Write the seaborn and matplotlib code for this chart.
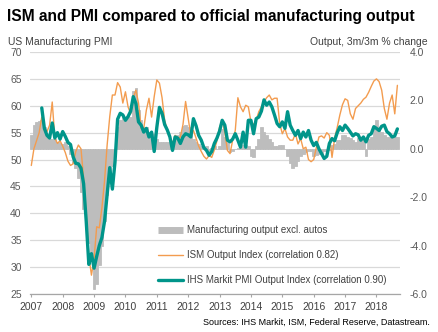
import numpy as np
import pandas as pd
import matplotlib
matplotlib.use("Agg")
import matplotlib.pyplot as plt
import seaborn as sns
from matplotlib.lines import Line2D

sns.set_theme(style="white")
plt.rcParams['font.family'] = ['Liberation Sans', 'DejaVu Sans']

# ---- data (monthly, Jan 2007 = month 0) ----
years = ["2007", "2008", "2009", "2010", "2011", "2012", "2013",
         "2014", "2015", "2016", "2017", "2018"]

output_excl_autos = [  # 3m/3m % change, right axis
    0.55, 1.0, 1.1, 1.15, 1.2, 0.9, 0.5, 0.4, 0.4, 0.4, 0.3, 0.25, 0.2, 0.3, 0.1,
    -0.2, -0.6, -0.8, -1.2, -1.8, -2.5, -3.3, -3.9, -4.5, -5.8, -5.6, -4.8, -4.0,
    -3.0, -1.9, -1.3, -0.7, -0.2,
    0.9, 1.2, 1.3, 1.2, 1.4, 1.3, 2.4, 2.5, 1.6, 1.2, 0.9, 0.9, 0.7, 0.6, 0.6, 0.4,
    0.3, 0.3, 0.3, 0.3, 0.2, 0.3, 0.5, 0.55, 0.7, 0.95, 1.0, 0.9, 0.6, 0.4, 0.3, 0.2,
    0.1, 0.05, 0.1, -0.1, 0.05, 0.1, 0.0, 0.1,
    0.8, 0.5, 0.3, -0.15, -0.1, 0.0, 0.05, 0.05, 0.15, 0.15, 0.1, -0.3, -0.35, 0.1,
    0.4, 0.9, 0.7, 0.55, 0.4, 0.3, 0.1, 0.1, 0.15, 0.15, 0.0, -0.3, -0.6, -0.8, -0.7,
    -0.5, -0.3, -0.2, -0.15, -0.1, -0.1, -0.3, -0.25, -0.2, -0.2, -0.1, -0.1, -0.05,
    0.15, 0.2, 0.35, 0.35, 0.55, 0.55, 0.5, 0.45, 0.35, 0.3, 0.45, 0.5, 0.4, -0.3,
    0.4, 0.5, 1.0, 1.2, 0.8, 0.7, 0.55, 0.5, 0.5, 0.55, 0.5, 0.5]

ism_output = [
    48.9, 52.0, 53.5, 55.0, 57.9, 55.4, 55.2, 56.4, 60.7, 54.0, 53.0, 53.5, 52.5,
    51.3, 49.7, 48.9, 49.2, 51.5, 52.7, 52.0, 46.5, 40.0, 32.0, 28.5, 31.5, 37.5,
    37.3, 41.0, 46.0, 52.7, 58.0, 62.0, 62.0, 64.3, 63.5, 60.5, 62.6,
    59.8, 58.5, 61.5, 62.9, 60.5, 55.8, 55.8, 59.2, 61.4, 57.9, 61.7, 64.8, 64.2,
    61.5, 57.3, 55.5, 54.2, 53.0, 54.5, 54.0, 54.2, 56.5, 60.8, 57.6, 54.5, 55.4,
    54.0, 52.5, 51.5, 50.6, 50.1, 50.75, 50.4, 51.8, 53.5, 56.0, 57.3, 55.0, 51.7,
    51.1, 53.6, 55.4, 61.5, 59.8, 58.9, 60.1, 59.8, 57.0, 56.5, 57.3, 58.9, 59.8,
    60.75, 61.5, 62.0, 61.1, 61.4, 61.4, 56.7, 54.8, 55.75, 54.2, 53.6, 53.6, 54.8,
    52.9, 53.9, 52.0, 52.3, 50.0, 49.6, 50.0, 52.2, 54.2, 54.4, 54.0, 55.0, 54.5,
    50.4, 54.0, 56.0, 58.3, 60.2, 61.3, 61.0, 58.5, 57.5, 59.5, 60.0, 60.5, 61.2,
    61.6, 62.5, 63.6, 64.6, 65.0, 64.5, 62.9, 59.5, 57.5, 60.5, 62.0, 58.5, 63.8]

pmi_start = 4  # series begins May 2007
pmi_output = [
    59.6, 55.8, 54.5, 54.0, 56.8, 54.0, 55.0, 53.8, 55.2, 54.3, 53.2, 52.8, 50.5,
    49.3, 49.2, 48.4, 45.5, 38.5, 30.5, 32.5, 29.8, 32.0, 34.0, 35.5, 38.5, 43.5,
    48.5, 44.5, 49.5, 57.5, 58.6, 58.3, 57.3, 58.0, 59.0, 61.7, 60.4, 57.0, 56.4,
    55.1, 55.8, 54.2, 55.1, 51.5, 56.0, 59.7, 58.6, 56.5, 55.5, 54.2, 51.7, 54.2,
    54.0, 53.0, 54.2, 54.8, 54.6, 54.2, 57.6, 56.3, 54.5, 53.6, 52.2, 51.7, 50.8,
    51.5, 53.0, 54.0, 55.3, 57.3, 56.4, 53.6, 53.3, 53.8, 54.8, 53.6, 52.3, 55.1,
    52.3, 57.3, 57.3, 54.8, 57.6, 57.9, 59.0, 61.1, 60.1, 60.7, 59.8, 58.3, 56.7,
    56.1, 57.0, 55.8, 58.9, 56.4, 55.4, 54.5, 55.4, 53.9, 55.1, 54.2, 55.4, 53.6,
    52.6, 53.2, 52.0, 51.1, 50.2, 50.6, 53.0, 53.9, 53.5, 55.0, 56.1, 55.4, 56.4,
    55.8, 55.1, 54.4, 54.8, 54.6, 53.6, 54.2, 53.3, 54.5, 54.8, 56.1, 55.8, 55.4,
    56.2, 56.4, 55.2, 54.8, 54.2, 54.4, 55.7]

labels = ["Manufacturing output excl. autos",
          "ISM Output Index (correlation 0.82)",
          "IHS Markit PMI Output Index (correlation 0.90)"]

months = np.arange(len(ism_output))
bars_df = pd.DataFrame({"month": months, "output": output_excl_autos})
ism_df = pd.DataFrame({"month": months, "value": ism_output})
pmi_df = pd.DataFrame({"month": np.arange(pmi_start, pmi_start + len(pmi_output)),
                       "value": pmi_output})

GREY = "#bdbdbd"
ORANGE = "#f39c4f"
TEAL = "#00958a"
GRID = "#d9d9d9"
TXT = "#404040"

fig = plt.figure(figsize=(4.39, 3.32), dpi=100)
W, H = 439, 332
ax = fig.add_axes([30 / W, 1 - 294 / H, 370 / W, 242 / H])
axr = ax.twinx()
axl = ax.twinx()

xlim = (-0.5, 141)

# grid + left axis (PMI)
ax.set_ylim(25, 70)
ax.set_yticks(range(25, 71, 5))
ax.grid(axis="y", color=GRID, linewidth=0.9)
ax.grid(axis="x", visible=False)
ax.tick_params(axis="y", length=0, pad=6, labelsize=7.5, labelcolor="#595959")

# bars (right axis)
sns.barplot(data=bars_df, x="month", y="output", ax=axr, color=GREY,
            width=1.0, native_scale=True, errorbar=None, linewidth=0.6,
            edgecolor=GREY, saturation=1)
axr.set_ylim(-6, 4)
rt = [-6, -4, -2, 0, 2, 4]
axr.set_yticks(rt)
axr.set_yticklabels([f"{v:.1f}" for v in rt])
axr.tick_params(axis="y", length=0, pad=7, labelsize=7.5, labelcolor="#595959")

# lines (PMI scale)
sns.lineplot(data=ism_df, x="month", y="value", ax=axl, color=ORANGE, linewidth=1.0)
sns.lineplot(data=pmi_df, x="month", y="value", ax=axl, color=TEAL, linewidth=2.4)
axl.set_ylim(25, 70)
axl.set_yticks([])

for a in (ax, axr, axl):
    a.set_xlim(*xlim)
    a.set_xlabel("")
    a.set_ylabel("")
    for s in a.spines.values():
        s.set_visible(False)
ax.spines["bottom"].set_visible(True)
ax.spines["bottom"].set_color("#a6a6a6")
ax.spines["bottom"].set_linewidth(0.9)

ax.set_xticks(np.arange(0, 12 * len(years), 12))
ax.set_xticklabels(years)
ax.tick_params(axis="x", bottom=True, length=2.5, width=0.8, color="#a6a6a6",
               pad=3, labelsize=7.5, labelcolor=TXT)

# texts
fig.text(7 / W, 1 - 17 / H, "ISM and PMI compared to official manufacturing output",
         fontsize=11.2, fontweight="bold", ha="left", va="center", color="black")
fig.text(8 / W, 1 - 42 / H, "US Manufacturing PMI", fontsize=7.5, ha="left",
         va="center", color=TXT)
fig.text(428 / W, 1 - 42 / H, "Output, 3m/3m % change", fontsize=7.5, ha="right",
         va="center", color=TXT)
fig.text(430 / W, 1 - 322 / H, "Sources: IHS Markit, ISM, Federal Reserve, Datastream.",
         fontsize=6.5, ha="right", va="center", color="black")

handles = [Line2D([0], [0], color=GREY, lw=5, solid_capstyle="butt"),
           Line2D([0], [0], color=ORANGE, lw=1.0),
           Line2D([0], [0], color=TEAL, lw=2.4)]
leg = fig.legend(handles, labels, loc="center left",
                 bbox_to_anchor=(158 / W, 1 - 255 / H), frameon=False, fontsize=7,
                 labelspacing=1.55, handlelength=2.6, handletextpad=0.4,
                 borderpad=0, borderaxespad=0)
for t in leg.get_texts():
    t.set_color(TXT)

fig.savefig("out.png", dpi=100)
